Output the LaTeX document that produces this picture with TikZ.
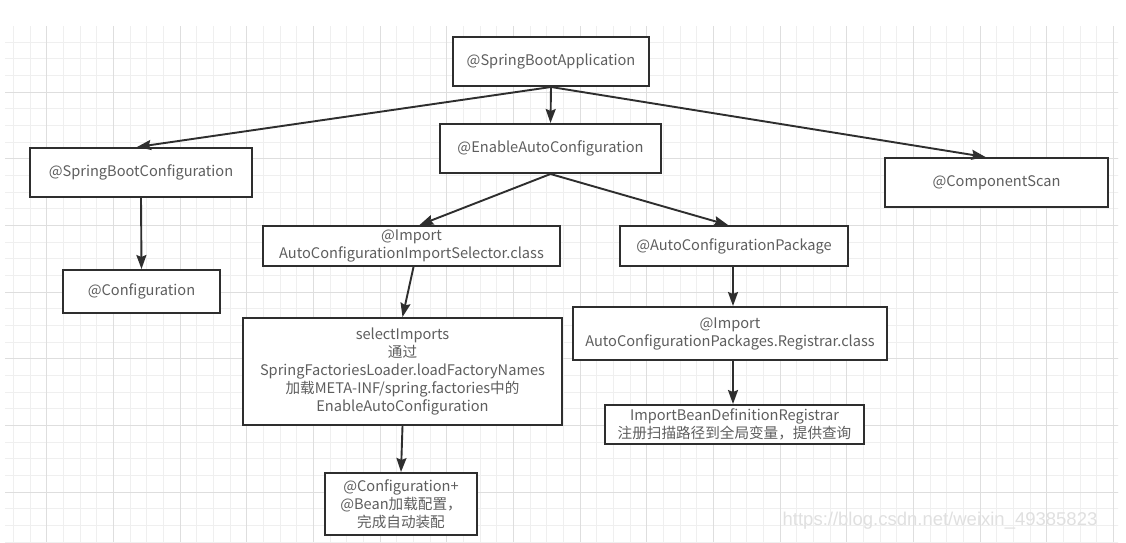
\documentclass[tikz,border=0pt]{standalone}
\usepackage{fontspec}
\setmainfont{Noto Sans CJK SC}
\newfontfamily\wmfont{Liberation Sans}
\usetikzlibrary{arrows.meta}
\definecolor{gridminor}{HTML}{EFEFEF}
\definecolor{gridmajor}{HTML}{DEDEDE}
\definecolor{boxline}{HTML}{2E2E2E}
\definecolor{txt}{HTML}{5E5E5E}
\definecolor{wm}{HTML}{E0E0E0}
\begin{document}
\begin{tikzpicture}[x=1pt,y=-1pt,
  box/.style={draw=boxline, line width=2pt, fill=white, text=txt, align=center, inner sep=0pt,
              font=\fontsize{14.6}{18}\selectfont},
  conn/.style={draw=boxline, line width=1.9pt, -{Stealth[length=14pt,width=10pt,inset=2pt]}},
  minorline/.style={draw=gridminor, line width=0.8pt},
  majorline/.style={draw=gridmajor, line width=1pt}]
\fill[white] (0,0) rectangle (1126,542);
\useasboundingbox (0,0) rectangle (1126,542);
% grid
\begin{scope}
\clip (5,26) rectangle (1118,542);
\foreach \i in {-1,...,68} {
  \draw[minorline] ({13.33+\i*16.667},0) -- ({13.33+\i*16.667},542);
}
\foreach \i in {-1,...,33} {
  \draw[minorline] (0,{8.67+\i*16.667}) -- (1126,{8.67+\i*16.667});
}
\foreach \i in {-1,...,17} {
  \draw[majorline] ({46.67+\i*66.667},0) -- ({46.67+\i*66.667},542);
}
\foreach \i in {0,...,8} {
  \draw[majorline] (0,{25.33+\i*66.667}) -- (1126,{25.33+\i*66.667});
}
\end{scope}
% nodes
\node[box,minimum width=196pt,minimum height=49pt] (app) at (551,61.5) {@SpringBootApplication};
\node[box,minimum width=221pt,minimum height=49pt] (eac) at (550.5,148.5) {@EnableAutoConfiguration};
\node[box,minimum width=222pt,minimum height=49pt] (sbc) at (141,172.5) {@SpringBootConfiguration};
\node[box,minimum width=223pt,minimum height=49pt] (cs) at (996.5,182.5) {@ComponentScan};
\node[box,minimum width=297pt,minimum height=40pt] (imp) at (411.5,246) {@Import\\AutoConfigurationImportSelector.class};
\node[box,minimum width=228pt,minimum height=40pt] (acp) at (734,246) {@AutoConfigurationPackage};
\node[box,minimum width=157pt,minimum height=43pt] (conf) at (141.5,291.5) {@Configuration};
\node[box,minimum width=319pt,minimum height=107pt] (sel) at (402.5,371.5) {selectImports\\通过\\SpringFactoriesLoader.loadFactoryNames\\加载META-INF/spring.factories中的\\EnableAutoConfiguration};
\node[box,minimum width=314pt,minimum height=53pt] (reg) at (730,333.5) {@Import\\AutoConfigurationPackages.Registrar.class};
\node[box,minimum width=259pt,minimum height=39pt] (ibdr) at (734.5,424.5) {ImportBeanDefinitionRegistrar\\注册扫描路径到全局变量，提供查询};
\node[box,minimum width=152pt,minimum height=62pt] (cb) at (401,504) {@Configuration+\\@Bean加载配置，\\完成自动装配};
% connectors
\draw[conn] (app.south) -- (eac.north);
\draw[conn] (app.south) -- ([xshift=-4pt]sbc.north);
\draw[conn] (app.south) -- ([xshift=-11pt]cs.north);
\draw[conn] (eac.south) -- ([xshift=8pt]imp.north);
\draw[conn] (eac.south) -- ([xshift=-6pt]acp.north);
\draw[conn] ([xshift=2pt]imp.south) -- (sel.north);
\draw[conn] (sel.south) -- (cb.north);
\draw[conn] ([xshift=-1pt]acp.south) -- ([xshift=3pt]reg.north);
\draw[conn] ([xshift=3pt]reg.south) -- ([xshift=-1.5pt]ibdr.north);
\draw[conn] (sbc.south) -- (conf.north);
% watermark
\node[text=wm, font=\wmfont\fontsize{18.5}{18.5}\selectfont] (wm) at (940,521) {https://blog.csdn.net/weixin\_49385823};
\end{tikzpicture}
\end{document}
